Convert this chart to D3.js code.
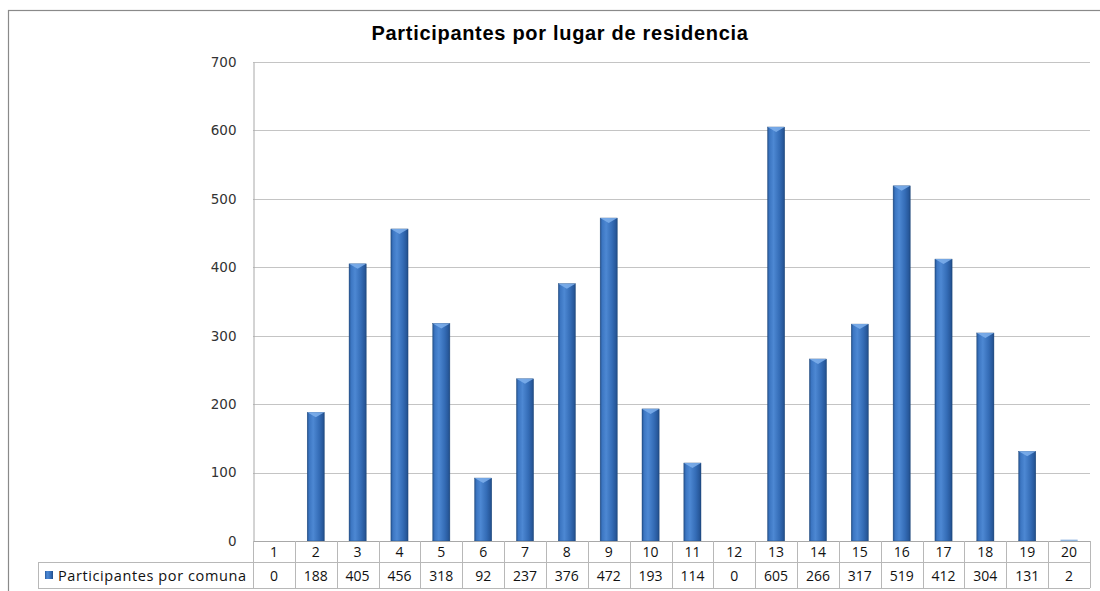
<!DOCTYPE html>
<html>
<head>
<meta charset="utf-8">
<script src="https://cdn.jsdelivr.net/npm/d3@7"></script>
<style>
  html, body { margin: 0; padding: 0; background: #fff; }
  svg { display: block; }
</style>
</head>
<body>
<svg id="chart" width="1100" height="591"></svg>
<script>
// data
const comunas = ["1","2","3","4","5","6","7","8","9","10","11","12","13","14","15","16","17","18","19","20"];
const participantes = [0,188,405,456,318,92,237,376,472,193,114,0,605,266,317,519,412,304,131,2];
const yTicks = [0,100,200,300,400,500,600,700];
const chartTitle = "Participantes por lugar de residencia";
const seriesName = "Participantes por comuna";

const rows = comunas.map((c, i) => ({c, v: participantes[i]}));

const svg = d3.select('#chart');
const plot = {left: 253, right: 1090, top: 62, bottom: 541};
const rowH = [21, 26];

// gradient for the bars
const defs = svg.append('defs');
const grad = defs.append('linearGradient').attr('id', 'barGrad').attr('x1', 0).attr('x2', 1).attr('y1', 0).attr('y2', 0);
[[0, '#24528f'], [0.12, '#3c76c2'], [0.35, '#4d88d3'], [0.7, '#346cb6'], [0.9, '#28599c'], [1, '#1f4a82']]
  .forEach(([o, c]) => grad.append('stop').attr('offset', o).attr('stop-color', c));

// outer frame
svg.append('rect')
  .attr('x', 8.5).attr('y', 10.5).attr('width', 1100).attr('height', 600)
  .attr('fill', 'none').attr('stroke', '#8a8a8a').attr('stroke-width', 1.2);

// scales
const x = d3.scaleBand().domain(comunas).range([plot.left, plot.right]).paddingInner(0.59).paddingOuter(0.295);
const xCell = d3.scaleBand().domain(comunas).range([plot.left, plot.right]);
const y = d3.scaleLinear().domain([0, 700]).range([plot.bottom, plot.top]);

// gridlines
svg.append('g').selectAll('line').data(yTicks.filter(d => d > 0)).join('line')
  .attr('x1', plot.left).attr('x2', plot.right)
  .attr('y1', d => Math.round(y(d)) + 0.5).attr('y2', d => Math.round(y(d)) + 0.5)
  .attr('stroke', '#c4c4c4').attr('stroke-width', 1);

// y axis
const yAxis = svg.append('g')
  .attr('transform', `translate(${plot.left + 0.5},0)`)
  .call(d3.axisLeft(y).tickValues(yTicks).tickSize(0).tickPadding(17));
yAxis.select('.domain').attr('stroke', '#a8a8a8');
yAxis.selectAll('text')
  .attr('font-family', '"DejaVu Sans", Verdana, sans-serif')
  .attr('font-size', 13.5).attr('fill', '#333');

// bars
const bars = svg.append('g').selectAll('g').data(rows).join('g');
bars.append('rect')
  .attr('x', d => x(d.c))
  .attr('y', d => y(d.v))
  .attr('width', x.bandwidth())
  .attr('height', d => plot.bottom - y(d.v))
  .attr('fill', d => d.v > 10 ? 'url(#barGrad)' : '#8db4e0')
  .attr('stroke', d => d.v > 10 ? '#1d4577' : 'none').attr('stroke-width', 0.4);
// bevel on top
bars.filter(d => d.v > 10).append('path')
  .attr('d', d => {
    const x0 = x(d.c), w = x.bandwidth(), t = y(d.v);
    return `M${x0},${t} L${x0 + w},${t} L${x0 + w / 2},${t + 5} Z`;
  })
  .attr('fill', '#7fb0ec').attr('opacity', 0.85);

// data table
const table = svg.append('g').attr('font-family', '"Open Sans", Lato, sans-serif').attr('font-size', 14).attr('fill', '#111');
const r1 = plot.bottom, r2 = plot.bottom + rowH[0], r3 = r2 + rowH[1];
const gridColor = '#b8b8b8';

// horizontal lines
[[plot.left, r2], [38, r2], [38, r3]].forEach(([x0, yy]) => {
  table.append('line').attr('x1', x0).attr('x2', plot.right).attr('y1', yy + 0.5).attr('y2', yy + 0.5)
    .attr('stroke', gridColor);
});
table.append('line').attr('x1', plot.left).attr('x2', plot.right).attr('y1', r1 + 0.5).attr('y2', r1 + 0.5)
  .attr('stroke', '#a8a8a8');
// vertical lines
table.append('line').attr('x1', 38.5).attr('x2', 38.5).attr('y1', r2).attr('y2', r3).attr('stroke', gridColor);
table.selectAll('line.v').data(comunas.concat(['end'])).join('line')
  .attr('class', 'v')
  .attr('x1', (d, i) => Math.round(plot.left + i * xCell.bandwidth()) + 0.5)
  .attr('x2', (d, i) => Math.round(plot.left + i * xCell.bandwidth()) + 0.5)
  .attr('y1', r1).attr('y2', r3)
  .attr('stroke', gridColor);

table.selectAll('text.cat').data(rows).join('text')
  .attr('class', 'cat')
  .attr('x', d => xCell(d.c) + xCell.bandwidth() / 2)
  .attr('y', r1 + 16)
  .attr('text-anchor', 'middle')
  .text(d => d.c);
table.selectAll('text.val').data(rows).join('text')
  .attr('class', 'val')
  .attr('x', d => xCell(d.c) + xCell.bandwidth() / 2)
  .attr('y', r2 + 18.5)
  .attr('text-anchor', 'middle')
  .text(d => d.v);

// legend key in table
table.append('rect').attr('x', 45).attr('y', r2 + 9).attr('width', 8).attr('height', 8)
  .attr('fill', 'url(#barGrad)');
table.append('text').attr('x', 58).attr('y', r2 + 18.5)
  .attr('font-size', 14.5).attr('letter-spacing', 0.6)
  .text(seriesName);

// title
svg.append('text')
  .attr('x', 560).attr('y', 40)
  .attr('text-anchor', 'middle')
  .attr('font-family', '"Liberation Sans", Arial, sans-serif')
  .attr('font-weight', 'bold').attr('font-size', 20)
  .attr('letter-spacing', 0.7)
  .attr('fill', '#000')
  .text(chartTitle);
</script>
</body>
</html>
